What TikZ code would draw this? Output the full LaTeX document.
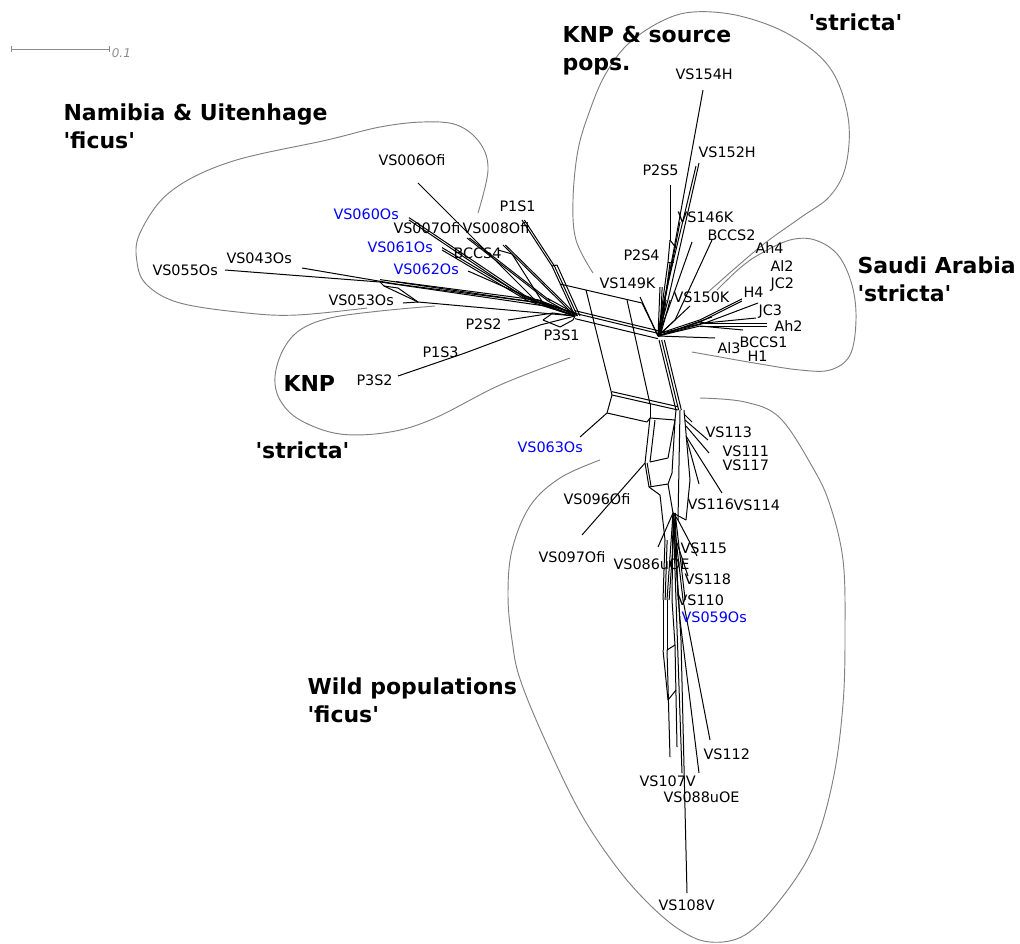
\documentclass[tikz,border=0pt]{standalone}
\usepackage{fontspec}
\setmainfont{DejaVu Sans}
\usetikzlibrary{arrows.meta,calc}

\newcommand{\sq}[1]{\textquotesingle#1\textquotesingle}

\begin{document}
\begin{tikzpicture}[x=0.75pt,y=-0.75pt,line width=0.75pt,
  every node/.style={font=\fontsize{10.8}{12}\selectfont},
  lbl/.style={anchor=base west,inner sep=0pt,yshift=-3.8pt},
  bluelbl/.style={lbl,text=blue},
  grp/.style={anchor=base west,inner sep=0pt,yshift=-6pt,font=\fontsize{16.5}{19}\selectfont\bfseries},
  hull/.style={draw=black!50,line width=0.7pt},
  dupy/.style={transform canvas={yshift=#1}},
  dupx/.style={transform canvas={xshift=#1}}]
  \useasboundingbox (0,0) rectangle (1020,943);

  \coordinate (sb0) at (11,49);
  \coordinate (sb1) at (110,49);
  \draw[black!45,{Bar[width=5pt]}-{Bar[width=5pt]}] (sb0) -- (sb1)
    node[anchor=west,inner sep=1pt,yshift=-3pt,text=black!45,font=\fontsize{9}{10}\selectfont\itshape] (sbl) {0.1};

  \draw[hull] plot[smooth,tension=0.6] coordinates {(478,213) (488,170) (480,143) (457,125) (423,122) (380,127) (327,140) (230,162) (170,192) (140,233) (137,262) (147,285) (180,303) (247,313) (297,315) (367,308)};
  \draw[hull] plot[smooth,tension=0.6] coordinates {(435,306) (380,311) (330,318) (300,330) (283,350) (275,377) (280,400) (300,420) (340,434) (390,432) (435,418) (500,385) (570,358)};
  \draw[hull] plot[smooth,tension=0.6] coordinates {(593,273) (576,240) (573,200) (578,150) (590,110) (605,75) (627,45) (660,22) (693,12) (740,16) (790,35) (830,68) (848,117) (846,165) (830,196) (800,218) (760,247) (707,293)};
  \draw[hull] plot[smooth,tension=0.6] coordinates {(717,290) (740,268) (760,254) (790,240) (815,240) (838,255) (852,285) (856,320) (850,355) (830,370) (800,370) (760,364) (720,357) (692,352)};
  \draw[hull] plot[smooth,tension=0.6] coordinates {(600,460) (560,478) (530,506) (512,550) (508,596) (512,640) (520,679) (545,740) (580,812) (615,865) (647,902) (680,930) (710,942) (745,935) (780,900) (813,848) (833,780) (843,704) (845,630) (843,560) (830,505) (813,468) (780,418) (745,402) (700,398)};

  \foreach \n/\x/\y in {hL/575/316,hR/658/336,
    a1/380/282,a2/396/284,a3/398/288,a4/418/302,a5/384/286,
    a6/537/302,a7/525/298,a8/528/301,a9/545/306,a10/541/303,a11/548/301,
    b1/552/266,b2/557/265,b3/580/316,
    t1/560/284,t4/642/303,v1/586/290,v2/627/300,
    w1/612/395,w2/650/404,w3/607/413,w4/647/422,w5/678/410,
    p1/540/325,p2/553/313,q1/543/320,q2/560/327,q3/573/320,
    r0/659/340,r1/676/410,r2/680/410,r3/684/410,
    x1/650/418,x2/645/463,x3/649/487,x4/668/484,x5/672/473,x6/675/420,
    y1/655/420,y2/650/462,y3/668/458,
    k/673/513,k1/678/520,k2/686/520,k3/690/480,j1/676/540,
    i1/684/414,i2/685/420,i3/686/426,i4/687/440,i5/686/436,
    m1/667/600,m2/672/600,m3/676/600,m4/680/620,m5/683/600,m6/681/640,
    n1/667/650,n2/675/645,n3/668/700,n4/676/690,
    u1/660/495,u2/665/540,u3/663/600,u4/663/650,
    g1/668/300,g2/664/300,g3/670/240,g4/668/262,g5/668/310,g6/675/320,g7/676/248,g8/674/262,
    h1/700/322,h2/705/323,h3/700/326}
    \coordinate (\n) at (\x,\y);

  \foreach \n/\x/\y in {e055/225/270,e043/302/268,e053/403/303,e006/418/183,e060/409/220,
    e007/467/238,e008/503/245,e004/512/254,e004b/498/250,e061/442/250,e062/468/271,
    e1S1/522/220,e2S2/508/320,e3S2/398/376,e1S3/465/353,e063/580/437,
    e113/692/422,e111/708/440,e117/709/453,e116/699/484,e114/722/493,
    e097/582/535,e086/658/547,e115/697/556,e118/688/576,
    e112/710/740,e107a/670/757,e107b/677/747,e107c/682/773,e088/699/773,e108/687/893,
    e154/703/90,e152a/699/163,e152b/696/166,e2S5/670/185,e146/680/222,e146b/692/242,
    eBC2/712/240,e2S4/660/287,e149/640/297,e150/690/306,
    eH4/742/301,eJC3/758/303,eR3/756/318,eAh2/767/326,eR5/743/330,eAl3/715/338,eR7/712/317}
    \coordinate (\n) at (\x,\y);

  \foreach \a/\b in {e055/a1,a1/a9,a9/hL,e043/a2,a2/a10,a10/hL,a1/a5,a5/a3,a5/a4,a3/a4,e053/a4,a4/hL,
    e006/a6,a6/hL,e060/a7,a7/hL,e007/a11,a11/hL,e008/hL,e004b/e004,e004/a9,e061/a8,a8/hL,e062/a10,
    e1S1/b1,b1/hL,b1/b2,b2/b3,t1/t4,v1/w1,v2/w2,t4/hR,
    e2S2/p2,p2/hL,e3S2/e1S3,e1S3/p1,p1/hL,p2/q1,q1/q2,q2/q3,q3/hL,
    w1/w5,w1/w3,w3/w4,w3/e063,w4/x1,w2/x1,
    x1/x2,x2/x3,x3/x4,x4/x5,x5/x6,x6/x1,y1/y2,y2/y3,y3/x6,e097/x2,
    r1/x6,r2/k1,r3/k3,k3/k2,x4/k,k1/k,k2/k,x3/u1,u1/u2,u2/u3,u3/u4,u4/n3,
    i1/e113,i2/e111,i3/e117,i4/e116,i5/e114,
    k/m1,k/m2,k/m3,k/m4,k/m5,k/m6,m1/n1,n1/e107a,m2/n2,n2/e107b,m3/e107c,m4/e088,m5/e112,m6/e108,
    n1/n2,n3/n4,e086/k,e115/k1,e118/j1,
    e154/hR,e152a/g1,g1/hR,e152b/g2,g2/hR,e2S5/g3,g3/g4,g4/hR,g3/g7,g4/g8,e146/hR,e146b/g5,g5/hR,
    eBC2/g6,g6/hR,e2S4/hR,e149/hR,e150/hR,
    hR/h1,h1/eH4,hR/h2,h2/eJC3,h2/eR3,hR/h3,h3/eAh2,h3/eR5,hR/eAl3,hR/eR7,h1/h2}
    \draw (\a) -- (\b);

  \foreach \d in {-2pt,2pt,4pt} \draw[dupy=\d] (hL) -- (hR);
  \foreach \d in {2pt,4pt} \draw[dupx=\d] (r0) -- (r1);
  \draw (r0) -- (r1);
  \draw[dupy=2.5pt] (w1) -- (w5);
  \foreach \a/\b in {a1/a9,a2/a10,a9/hL,a7/hL,a8/hL,a11/hL,a6/hL,e060/a7,e061/a8}
    \draw[dupy=1.8pt] (\a) -- (\b);
  \foreach \a/\b in {b1/hL,e1S1/b1,e008/hL,e007/a11}
    \draw[dupx=1.8pt] (\a) -- (\b);
  \foreach \a/\b in {g1/hR,g2/hR,g4/hR,e2S4/hR,k/m1,k/m3,k/m5,u2/u3,x2/x3}
    \draw[dupx=1.6pt] (\a) -- (\b);
  \foreach \a/\b in {hR/h1,hR/h3,h1/eH4,h3/eAh2}
    \draw[dupy=1.6pt] (\a) -- (\b);

  \foreach \n/\x/\y/\lab in {VS055Os/152/270/VS055Os,VS043Os/226/258/VS043Os,VS053Os/328/300/VS053Os,
    VS006Ofi/378/160/VS006Ofi,VS007Ofi/393/228/VS007Ofi,VS008Ofi/462/228/VS008Ofi,BCCS4/453/253/BCCS4,
    P1S1/499/206/P1S1,P2S2/465/324/P2S2,P3S1/543/335/P3S1,P1S3/422/352/P1S3,P3S2/356/380/P3S2,
    VS149K/599/283/VS149K,P2S4/623/255/P2S4,P2S5/642/170/P2S5,VS154H/675/74/VS154H,
    VS152H/698/152/VS152H,VS146K/677/217/VS146K,BCCS2/707/235/BCCS2,Ah4/755/248/Ah4,
    Al2/770/266/Al2,JC2/770/283/JC2,H4/743/292/H4,VS150K/673/297/VS150K,JC3/758/310/JC3,
    Ah2/774/326/Ah2,BCCS1/739/342/BCCS1,Al3/717/348/Al3,H1/747/356/H1,
    VS113/705/432/VS113,VS111/722/451/VS111,VS117/722/465/VS117,VS116/687/504/VS116,VS114/733/505/VS114,
    VS096Ofi/563/499/VS096Ofi,VS097Ofi/538/557/VS097Ofi,VS086uOE/613/564/VS086uOE,VS115/680/548/VS115,
    VS118/684/579/VS118,VS110/677/600/VS110,VS112/703/754/VS112,VS107V/639/781/VS107V,
    VS088uOE/663/797/VS088uOE,VS108V/658/905/VS108V}
    \node[lbl] (\n) at (\x,\y) {\lab};

  \foreach \n/\x/\y/\lab in {VS060Os/333/214/VS060Os,VS061Os/367/247/VS061Os,VS062Os/393/269/VS062Os,
    VS063Os/517/447/VS063Os,VS059Os/681/617/VS059Os}
    \node[bluelbl] (\n) at (\x,\y) {\lab};

  \node[grp] (knpsrc) at (562,34) {KNP \& source};
  \node[grp] (pops) at (562,62) {pops.};
  \node[grp] (strtop) at (808,22) {\sq{stricta}};
  \node[grp] (nam) at (63,112) {Namibia \& Uitenhage};
  \node[grp] (namfic) at (63,140) {\sq{ficus}};
  \node[grp] (saudi) at (857,265) {Saudi Arabia};
  \node[grp] (saudistr) at (857,293) {\sq{stricta}};
  \node[grp] (knp) at (283,383) {KNP};
  \node[grp] (knpstr) at (255,450) {\sq{stricta}};
  \node[grp] (wild) at (307,686) {Wild populations};
  \node[grp] (wildfic) at (307,714) {\sq{ficus}};
\end{tikzpicture}
\end{document}
